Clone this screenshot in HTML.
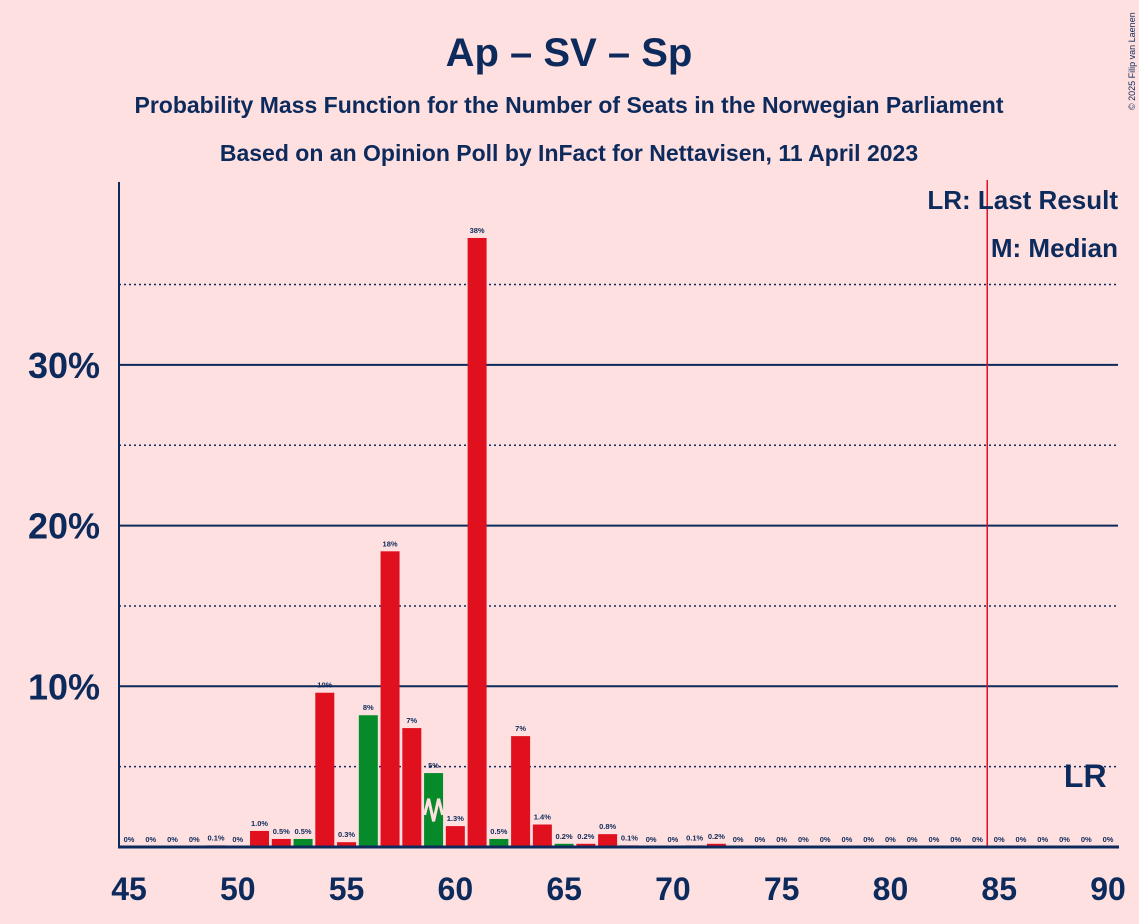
<!DOCTYPE html>
<html><head><meta charset="utf-8"><style>
body{margin:0;background:#ffe0e0;font-family:"Liberation Sans",sans-serif;}
svg{display:block}
</style></head><body>
<svg width="1139" height="924" xmlns="http://www.w3.org/2000/svg" id="c">
<rect width="1139" height="924" fill="#ffe0e0"/>
<text x="569" y="66" text-anchor="middle" font-size="40" font-weight="bold" fill="#0c2a5b">Ap – SV – Sp</text>
<text x="569" y="113" text-anchor="middle" font-size="23" font-weight="bold" fill="#0c2a5b">Probability Mass Function for the Number of Seats in the Norwegian Parliament</text>
<text x="569" y="161" text-anchor="middle" font-size="23" font-weight="bold" fill="#0c2a5b">Based on an Opinion Poll by InFact for Nettavisen, 11 April 2023</text>
<text transform="translate(1135,110) rotate(-90)" font-size="9" fill="#0c2a5b">© 2025 Filip van Laenen</text>
<g id="grid"></g><g id="bars"></g><g id="axes"></g>
<text x="1118" y="209" text-anchor="end" font-size="26" font-weight="bold" fill="#0c2a5b">LR: Last Result</text>
<text x="1118" y="257" text-anchor="end" font-size="26" font-weight="bold" fill="#0c2a5b">M: Median</text>
</svg>
<script>
const seats=[45,46,47,48,49,50,51,52,53,54,55,56,57,58,59,60,61,62,63,64,65,66,67,68,69,70,71,72,73,74,75,76,77,78,79,80,81,82,83,84,85,86,87,88,89,90];
const probs=[0,0,0,0,0.1,0,1.0,0.5,0.5,9.6,0.3,8.2,18.4,7.4,4.6,1.3,37.9,0.5,6.9,1.4,0.2,0.2,0.8,0.1,0,0,0.1,0.2,0,0,0,0,0,0,0,0,0,0,0,0,0,0,0,0,0,0];
const labels=["0%","0%","0%","0%","0.1%","0%","1.0%","0.5%","0.5%","10%","0.3%","8%","18%","7%","5%","1.3%","38%","0.5%","7%","1.4%","0.2%","0.2%","0.8%","0.1%","0%","0%","0.1%","0.2%","0%","0%","0%","0%","0%","0%","0%","0%","0%","0%","0%","0%","0%","0%","0%","0%","0%","0%"];
const greenSeats=[53,56,59,62,65];
const xTicks=[45,50,55,60,65,70,75,80,85,90];
const yMajor=[10,20,30];
const yMinor=[5,15,25,35];
const median=59, lastResult=85;
const NS="http://www.w3.org/2000/svg";
const X=s=>129+(s-45)*(1108-129)/45;
const Y=p=>847-p*16.07;
function mk(t,a,parent){const e=document.createElementNS(NS,t);for(const k in a)e.setAttribute(k,a[k]);document.getElementById(parent).appendChild(e);return e;}
yMinor.forEach(v=>{const l=mk('line',{x1:119,x2:1118,y1:Y(v),y2:Y(v),stroke:'#0c2a5b','stroke-width':1.5,'stroke-dasharray':'2,3'},'grid');

});
yMajor.forEach(v=>{const l=mk('line',{x1:119,x2:1118,y1:Y(v),y2:Y(v),stroke:'#0c2a5b','stroke-width':2},'grid');


const t=mk('text',{x:100,y:Y(v)+13,'text-anchor':'end','font-size':36,'font-weight':'bold',fill:'#0c2a5b'},'axes');t.textContent=v+'%';

});
seats.forEach((s,i)=>{const p=probs[i];const g=greenSeats.includes(s);
const h=p*16.07;
if(p>0){const r=mk('rect',{x:X(s)-9.5,y:847-h,width:19,height:h,fill:g?'#078a2a':'#e0101f'},'bars');

}
const t=mk('text',{x:X(s),y:847-h-5,'text-anchor':'middle','font-size':7.5,'font-weight':'bold',fill:'#0c2a5b'},'bars');t.textContent=labels[i];

});
const m=mk('polyline',{points:`${X(median)-9},${Y(2.0)} ${X(median)-5},${Y(3.0)} ${X(median)},${Y(1.6)} ${X(median)+5},${Y(3.0)} ${X(median)+9},${Y(2.0)}`,fill:'none',stroke:'#ffe0e0','stroke-width':3},'bars');


const lr=mk('line',{x1:X(lastResult)-12,x2:X(lastResult)-12,y1:180,y2:847,stroke:'#e0101f','stroke-width':1.5},'axes');


const lrt=mk('text',{x:X(89)-1,y:787,'text-anchor':'middle','font-size':32,'font-weight':'bold',fill:'#0c2a5b'},'axes');lrt.textContent='LR';


const ya=mk('line',{x1:119,x2:119,y1:182,y2:848,stroke:'#0c2a5b','stroke-width':2},'axes');


const xa=mk('line',{x1:118,x2:1119,y1:847,y2:847,stroke:'#0c2a5b','stroke-width':3},'axes');


xTicks.forEach(s=>{const t=mk('text',{x:X(s),y:900,'text-anchor':'middle','font-size':32,'font-weight':'bold',fill:'#0c2a5b'},'axes');t.textContent=s;

});
</script>
</body></html>
